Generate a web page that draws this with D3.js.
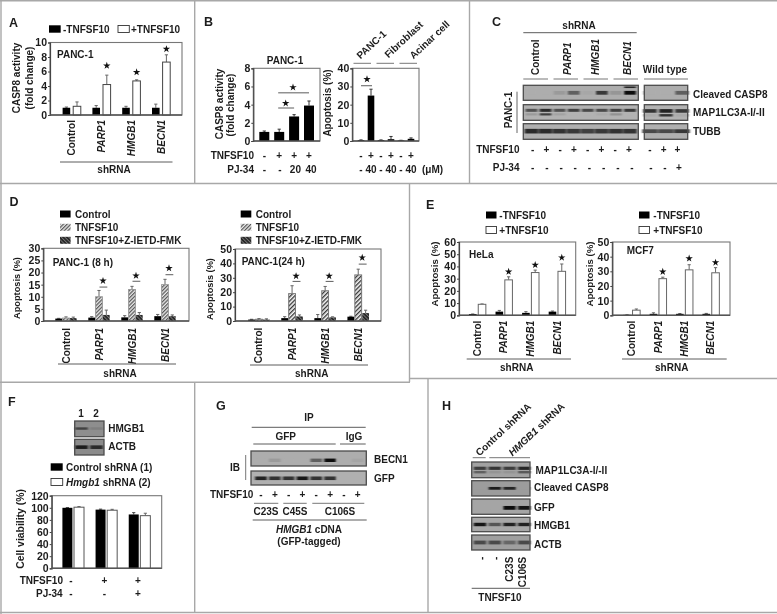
<!DOCTYPE html>
<html><head><meta charset="utf-8">
<script src="https://cdn.jsdelivr.net/npm/d3@7"></script>
<style>
html,body{margin:0;padding:0;background:#fff}
svg{display:block;filter:blur(0.35px)}
text{font-family:"Liberation Sans",Arial,sans-serif;font-weight:bold;font-size:10px;fill:#1c1c1c}
</style></head><body><svg id="c" width="777" height="614"></svg>
<script>
// ---------- data ----------
const shGenes=["Control","PARP1","HMGB1","BECN1"];
const legendTNF=["-TNFSF10","+TNFSF10"];
const legendD=["Control","TNFSF10","TNFSF10+Z-IETD-FMK"];
const legendF=["Control shRNA (1)","Hmgb1 shRNA (2)"];
// A
const aMinus=[1,1,1,1], aMinusErr=[.1,.3,.2,.5];
const aPlus=[1.2,4.2,4.7,7.3], aPlusErr=[.6,1.3,.15,1];
const aStars=[null,6.8,5.9,9.1];
// B
const b1Cats=["a","b","c","d"], b1Vals=[1,1,2.7,3.9], b1Err=[.1,.3,.2,.5];
const b1Top=["-","+","+","+"], b1Bottom=["-","-","20","40"];
const b2Cats=["a","b","c","d","e","f"], b2Vals=[.5,25,.5,1,.3,1.2], b2Err=[.1,3.5,.1,1.5,.1,.5];
const b2Top=["-","+","-","+","-","+"], b2Bottom=["-","40","-","40","-","40"];
const b2Heads=["PANC-1","Fibroblast","Acinar cell"];
// C
const cUpper=[0,0,.12,.5,.04,.75,.15,1], cUpperTop=[0,0,0,0,0,0,0,.85], cUpperWT=[0,0,.5];
const cLC3a=[.6,.85,.6,.7,.65,.65,.7,.75], cLC3b=[.15,.7,.1,0,0,.05,.2,0];
const cLC3aWT=[.8,.9,.75], cLC3bWT=[.05,.8,.05];
const cTubb=[.85,.85,.8,.75,.7,.75,.8,.8], cTubbWT=[.65,.65,.75];
const cTop=["-","+","-","+","-","+","-","+"], cBottom=["-","-","-","-","-","-","-","-"];
const cTopWT=["-","+","+"], cBottomWT=["-","-","+"];
// D
const d1Ctl=[1,1.4,1.5,2], d1CtlErr=[.1,.4,.7,.7];
const d1Tnf=[1.2,10,13,15], d1TnfErr=[.5,2.6,1.3,2.2];
const d1Z=[1.2,2.5,2.5,2], d1ZErr=[.4,2,1,.5];
const d1Sig=[null,14,16.4,19.1], d1Stars=[null,16.6,18.7,21.8];
const d2Ctl=[1,2,2,3], d2CtlErr=[.2,1,2.5,.3];
const d2Tnf=[1.2,19,21,32], d2TnfErr=[.5,5.5,3,4];
const d2Z=[1,3.2,2.5,5.5], d2ZErr=[.5,1,.4,2];
const d2Sig=[null,27.5,27.5,39.5], d2Stars=[null,31.2,31.2,44];
// E
const e1Minus=[1,3,2,3], e1MinusErr=[.1,1,1,.5];
const e1Plus=[9,29,35,36], e1PlusErr=[.3,2.5,2,6];
const e1Stars=[null,35.7,41.2,47.2];
const e2Minus=[.3,1,1,1], e2MinusErr=[.1,.7,.2,.3];
const e2Plus=[3.5,25,31,29], e2PlusErr=[.8,1,3.5,3.5];
const e2Stars=[null,29.7,38.8,36];
// F
const fCats=["a","b","c"];
const fCtl=[100,97,89], fCtlErr=[.3,.8,3];
const fKd=[101,96,87], fKdErr=[1,1.5,4];
const fTop=["-","+","+"], fBottom=["-","-","+"];
const fHmgb1=[.6,.12], fActb=[.9,.8];
// G
const gBecn=[0,.12,0,0,.5,1,0,.05], gGfp=[.9,.8,.8,.95,.8,.8,0,0];
const gSigns=["-","+","-","+","-","+","-","+"];
const gMut=["C23S","C45S","C106S"];
// H
const hLC3a=[.7,.75,.7,.85], hLC3b=[.45,.1,.1,.5];
const hCasp=[0,.9,.85,0], hGfp=[0,0,1,.95], hHmgb=[.95,.55,.9,.9], hActb=[.6,.6,.4,.6];
const hLabels=["-","-","C23S","C106S"];
const hBlotNames=["MAP1LC3A-I/-II","Cleaved CASP8","GFP","HMGB1","ACTB"];

// ---------- helpers ----------
const svg=d3.select("#c");
const defs=svg.append("defs");
defs.append("filter").attr("id","soft").attr("x","-30%").attr("y","-80%").attr("width","160%").attr("height","260%")
  .append("feGaussianBlur").attr("stdDeviation","1 0.65");
function hatch(id,bg,fg,angle,w,sw){
  const p=defs.append("pattern").attr("id",id).attr("width",w).attr("height",w)
    .attr("patternUnits","userSpaceOnUse").attr("patternTransform",`rotate(${angle})`);
  p.append("rect").attr("width",w).attr("height",w).attr("fill",bg);
  p.append("rect").attr("width",sw).attr("height",w).attr("fill",fg);
}
hatch("hTnf","#e8e8e8","#555",45,2.6,1.2);
hatch("hTnf2","#f4f4f4","#333",45,3,1.3);
hatch("hZ","#262626","#777",-45,2.6,.9);
const ink="#1c1c1c", gray="#777", rule="#5c5c5c";
function T(x,y,s,o={}){
  const t=svg.append("text").attr("x",x).attr("y",y).attr("dy","0.35em")
    .attr("text-anchor",o.anchor||"start").text(s);
  if(o.size) t.style("font-size",o.size+"px");
  if(o.italic) t.style("font-style","italic");
  if(o.rot!=null) t.attr("transform",`rotate(${o.rot},${x},${y})`);
  return t;
}
function L(x1,y1,x2,y2,c=rule,w=1){svg.append("line").attr("x1",x1).attr("y1",y1).attr("x2",x2).attr("y2",y2).attr("stroke",c).attr("stroke-width",w);}
function star(x,y){svg.append("path").attr("d",d3.symbol().type(d3.symbolStar).size(17)()).attr("transform",`translate(${x},${y})`).attr("fill","#111");}
function swatch(x,y,w,h,fill){svg.append("rect").attr("x",x).attr("y",y-h/2).attr("width",w).attr("height",h).attr("fill",fill).attr("stroke",fill==="#fff"?"#333":"none").attr("stroke-width",.9);}
const isGene=s=>["PARP1","HMGB1","BECN1"].includes(s);

// generic bar chart
function bars(cfg){
  const {x0,x1,y0,y1,max,ticks,cats,centers,series,pitch,bw,labelTop}=cfg;
  const y=d3.scaleLinear().domain([0,max]).range([y1,y0]);
  const step=(centers[1]-centers[0]);
  const xG=d3.scaleBand().domain(cats).range([centers[0]-step/2,centers[centers.length-1]+step/2]);
  const n=series.length;
  const xS=d3.scaleBand().domain(d3.range(n)).range([step/2-n*pitch/2,step/2+n*pitch/2]);
  const g=svg.append("g");
  g.append("rect").attr("x",x0).attr("y",y0).attr("width",x1-x0).attr("height",y1-y0).attr("fill","#fff").attr("stroke",gray).attr("stroke-width",1.1);
  series.forEach((s,i)=>{
    const gg=g.append("g");
    const cx=c=>xG(c)+xS(i)+xS.bandwidth()/2;
    gg.selectAll("line.e").data(cats).join("line")
      .attr("x1",c=>cx(c)).attr("x2",c=>cx(c))
      .attr("y1",(c,k)=>y(s.v[k])).attr("y2",(c,k)=>y(s.v[k]+s.e[k]))
      .attr("stroke",s.ec||"#666").attr("stroke-width",1);
    gg.selectAll("line.c").data(cats).join("line").attr("class","c")
      .attr("x1",c=>cx(c)-1.6).attr("x2",c=>cx(c)+1.6)
      .attr("y1",(c,k)=>y(s.v[k]+s.e[k])).attr("y2",(c,k)=>y(s.v[k]+s.e[k]))
      .attr("stroke",s.ec||"#666").attr("stroke-width",1);
    gg.selectAll("rect").data(cats).join("rect")
      .attr("x",c=>cx(c)-bw/2).attr("width",bw)
      .attr("y",(c,k)=>y(s.v[k])).attr("height",(c,k)=>y1-y(s.v[k]))
      .attr("fill",s.fill).attr("stroke",s.stroke||"none").attr("stroke-width",1);
  });
  const ax=svg.append("g").attr("transform",`translate(${x0},0)`).call(d3.axisLeft(y).tickValues(ticks).tickSize(2).tickPadding(1).tickFormat(d3.format("d")));
  ax.selectAll("text").style("font-size","10.5px").style("fill",ink);
  ax.select(".domain").attr("stroke","#444").attr("stroke-width",1.2);ax.selectAll("line").attr("stroke","#444");
  const ab=svg.append("g").attr("transform",`translate(0,${y1})`).call(d3.axisBottom(xG).tickSize(0).tickFormat(""));
  ab.select(".domain").remove();
  L(x0,y1,x1,y1,"#555",1.4);
  if(labelTop!=null){
    cats.forEach(c=>T(xG(c)+step/2,labelTop,c,{anchor:"end",rot:-90,italic:isGene(c)}));
  }
  return {y,xG,xS,step,star:(c,v,i)=>star(xG(c)+xS(i)+xS.bandwidth()/2,y(v)),
    cx:(c,i)=>xG(c)+xS(i)+xS.bandwidth()/2};
}
function signs(list,x0,x1,yy,opt={}){
  const s=d3.scalePoint().domain(d3.range(list.length)).range([x0,x1]);
  list.forEach((t,i)=>T(s(i),yy,t,{anchor:"middle",size:opt.size||10}));
}
// blot: rows of band intensity through a lane scale
function blot(x0,x1,y0,y1,lanesX,bandsets,bg){
  const g=svg.append("g");
  g.append("rect").attr("x",x0).attr("y",y0).attr("width",x1-x0).attr("height",y1-y0).attr("fill",bg);
  const inner=g.append("g").attr("filter","url(#soft)");
  const col=d3.scaleLinear().domain([0,1]).range([bg,"#111"]);
  bandsets.forEach(b=>{
    const x=d3.scalePoint().domain(d3.range(b.v.length)).range(lanesX);
    const step=x.step();
    const yc=y0+(y1-y0)*b.at;
    inner.selectAll(null).data(b.v).join("rect")
      .attr("x",(d,i)=>x(i)-step*(b.w||.42)).attr("width",step*2*(b.w||.42))
      .attr("y",yc-(b.h||1.6)).attr("height",2*(b.h||1.6))
      .attr("fill",d=>col(d));
  });
  g.append("rect").attr("x",x0).attr("y",y0).attr("width",x1-x0).attr("height",y1-y0).attr("fill","none").attr("stroke","#4c4c4c").attr("stroke-width",1.3);
}

// ---------- panel frames ----------
const frame="#a8a8a8";
[[1,0,1,614],[0,.7,777,.7],[0,183.5,777,183.5],[0,382.3,410,382.3],[410,378.5,777,378.5],[0,612.5,777,612.5],
 [194.7,0,194.7,183.5],[469.5,0,469.5,183.5],[409.5,183.5,409.5,382],[194.7,382,194.7,613],[428,378.5,428,613]]
 .forEach(d=>L(d[0],d[1],d[2],d[3],frame,1.4));

// ---------- A ----------
T(9,22.5,"A",{size:12.5});
swatch(49,29,11.7,7.4,"#000");T(63,29.5,legendTNF[0]);
swatch(118,29,11.3,7,"#fff");T(131,29.5,legendTNF[1]);
T(16,78,"CASP8 activity",{anchor:"middle",rot:-90});
T(29.5,78,"(fold change)",{anchor:"middle",rot:-90});
const pa=bars({x0:50,x1:182,y0:42.5,y1:115,max:10,ticks:[0,2,4,6,8,10],cats:shGenes,centers:[71.7,101.5,131.3,161.1],
  pitch:10.6,bw:7.6,labelTop:120,series:[{v:aMinus,e:aMinusErr,fill:"#000"},{v:aPlus,e:aPlusErr,fill:"#fff",stroke:"#444"}]});
shGenes.forEach((c,i)=>{if(aStars[i])pa.star(c,aStars[i],1);});
T(57,54,"PANC-1");
L(60,162,172.5,162);T(114,169.5,"shRNA",{anchor:"middle"});

// ---------- B ----------
T(204,22,"B",{size:12.5});
T(285,60,"PANC-1",{anchor:"middle"});
T(219,104,"CASP8 activity",{anchor:"middle",rot:-90});
T(230.7,105,"(fold change)",{anchor:"middle",rot:-90});
const pb1=bars({x0:253.3,x1:320,y0:68.3,y1:141,max:8,ticks:[0,2,4,6,8],cats:b1Cats,centers:[264.3,279.2,294,309],
  pitch:14,bw:10,series:[{v:b1Vals,e:b1Err,fill:"#000",ec:"#333"}]});
[[3.63,2],[5.3,3]].forEach(([v,to])=>{
  L(pb1.cx(b1Cats[1],0)-1,pb1.y(v),pb1.cx(b1Cats[to],0),pb1.y(v));
});
star(285.7,pb1.y(4.15));star(293,pb1.y(5.9));
T(254,155,"TNFSF10",{anchor:"end"});T(254,169,"PJ-34",{anchor:"end"});
signs(b1Top,264.3,309,155);signs(b1Bottom,264.3,311,169);
T(327.3,103,"Apoptosis (%)",{anchor:"middle",rot:-90});
const pb2=bars({x0:352.3,x1:419,y0:68.3,y1:141,max:40,ticks:[0,10,20,30,40],cats:b2Cats,centers:[361,371,381,391,401,411],
  pitch:10,bw:6.6,series:[{v:b2Vals,e:b2Err,fill:"#000",ec:"#333"}]});
L(361,pb2.y(30.4),372,pb2.y(30.4));star(367,pb2.y(34));
[[353.5,371],[376.5,394],[399.5,417]].forEach(d=>L(d[0],63.3,d[1],63.3,"#777"));
T(358,57,b2Heads[0],{rot:-43});T(386,56,b2Heads[1],{rot:-43});T(411,57,b2Heads[2],{rot:-43});
signs(b2Top,361,411,155);signs(b2Bottom,361,411,169);
T(422,169,"(μM)");

// ---------- C ----------
T(492,22,"C",{size:12.5});
T(579,25,"shRNA",{anchor:"middle"});L(523.3,32.7,636.7,32.7);
[535.3,567.3,595.7,627].forEach((x,i)=>{T(x,75,shGenes[i],{anchor:"start",rot:-90,italic:i>0});});
[[523.3,548],[553.5,578],[583.5,608],[613.5,638]].forEach(d=>L(d[0],79,d[1],79,"#777"));
L(644,79,688,79,"#777");
T(665,69,"Wild type",{anchor:"middle"});
blot(523.3,638.3,85.3,100.3,[531.5,630],[{v:cUpper,at:.5,h:1.9},{v:cUpperTop,at:.13,h:.8}],"#adadad");
blot(644.3,687.7,85.3,100.3,[650,682],[{v:cUpperWT,at:.5,h:1.9}],"#adadad");
blot(523.3,638.3,104.7,120.3,[531.5,630],[{v:cLC3a,at:.36,h:1.5},{v:cLC3b,at:.62,h:1.1}],"#b2b2b2");
blot(644.3,687.7,104.7,120.3,[650,682],[{v:cLC3aWT,at:.4,h:1.8},{v:cLC3bWT,at:.68,h:1.2}],"#b2b2b2");
blot(523.3,638.3,123.7,139.3,[531.5,630],[{v:cTubb,at:.48,h:2.3,w:.48}],"#b0b0b0");
blot(644.3,687.7,123.7,139.3,[650,682],[{v:cTubbWT,at:.48,h:1.9,w:.48}],"#b0b0b0");
T(693,94,"Cleaved CASP8");T(693,112.7,"MAP1LC3A-I/-II");T(693,131,"TUBB");
T(508,110,"PANC-1",{anchor:"middle",rot:-90});
L(517,91.7,517,133,"#666");
T(519.5,149.3,"TNFSF10",{anchor:"end"});T(519.5,167.7,"PJ-34",{anchor:"end"});
signs(cTop,532.7,629,149.3);signs(cBottom,532.7,632,167.7);
signs(cTopWT,650,677.5,149.3);signs(cBottomWT,651,679,167.7);

// ---------- D ----------
T(9.5,202,"D",{size:12.5});
function dLegend(xs,xt){
  [["#000",214],["url(#hTnf)",227.3],["url(#hZ)",240.3]].forEach(([f,y],i)=>{
    swatch(xs,y,10.6,7,f);T(xt,y,legendD[i]);
  });
}
dLegend(60,75);
T(17,288,"Apoptosis (%)",{anchor:"middle",rot:-90,size:9.2});
const pd1=bars({x0:43.3,x1:189,y0:248.3,y1:321,max:30,ticks:[0,5,10,15,20,25,30],cats:shGenes,centers:[66,99,132,165],
  pitch:7.3,bw:6.8,labelTop:328,series:[{v:d1Ctl,e:d1CtlErr,fill:"#000"},{v:d1Tnf,e:d1TnfErr,fill:"url(#hTnf)",stroke:"#999"},{v:d1Z,e:d1ZErr,fill:"url(#hZ)"}]});
shGenes.forEach((c,i)=>{if(d1Sig[i]){L(pd1.cx(c,1)+.5,pd1.y(d1Sig[i]),pd1.cx(c,2)+1,pd1.y(d1Sig[i]));star(pd1.cx(c,1)+4,pd1.y(d1Stars[i]));}});
T(52.7,262.7,"PANC-1 (8 h)");
L(58,364,176,364);T(120,373.7,"shRNA",{anchor:"middle"});
dLegend(240.7,255.7);
T(210,289,"Apoptosis (%)",{anchor:"middle",rot:-90,size:9.2});
const pd2=bars({x0:235,x1:381,y0:249,y1:321,max:50,ticks:[0,10,20,30,40,50],cats:shGenes,centers:[259,292,325,358.3],
  pitch:7.4,bw:6.8,labelTop:327.7,series:[{v:d2Ctl,e:d2CtlErr,fill:"#000"},{v:d2Tnf,e:d2TnfErr,fill:"url(#hTnf2)",stroke:"#777"},{v:d2Z,e:d2ZErr,fill:"url(#hZ)"}]});
shGenes.forEach((c,i)=>{if(d2Sig[i]){L(pd2.cx(c,1)+.5,pd2.y(d2Sig[i]),pd2.cx(c,2)+1,pd2.y(d2Sig[i]));star(pd2.cx(c,1)+4,pd2.y(d2Stars[i]));}});
T(241.7,261.7,"PANC-1(24 h)");
L(250,365,368,365);T(311.7,373.7,"shRNA",{anchor:"middle"});

// ---------- E ----------
T(426,204.7,"E",{size:12.5});
function eLegend(xs,xt){
  swatch(xs,215,10.5,7,"#000");T(xt,215.5,legendTNF[0]);
  swatch(xs,230,10.5,7,"#fff");T(xt,230.5,legendTNF[1]);
}
eLegend(486,499.3);eLegend(639,653.3);
T(435,274,"Apoptosis (%)",{anchor:"middle",rot:-90,size:9.7});
const pe1=bars({x0:459,x1:575.7,y0:242,y1:315.3,max:60,ticks:[0,10,20,30,40,50,60],cats:shGenes,centers:[477.4,503.9,530.5,557.2],
  pitch:9.3,bw:7.6,labelTop:320.7,series:[{v:e1Minus,e:e1MinusErr,fill:"#000"},{v:e1Plus,e:e1PlusErr,fill:"#fff",stroke:"#666"}]});
shGenes.forEach((c,i)=>{if(e1Stars[i])pe1.star(c,e1Stars[i],1);});
T(469,254,"HeLa");
L(466.7,359,571,359);T(516.7,367.7,"shRNA",{anchor:"middle"});
T(590,274,"Apoptosis (%)",{anchor:"middle",rot:-90,size:9.7});
const pe2=bars({x0:612.3,x1:730,y0:242,y1:315.3,max:50,ticks:[0,10,20,30,40,50],cats:shGenes,centers:[631.7,658,684.7,711],
  pitch:9.3,bw:7.6,labelTop:320.7,series:[{v:e2Minus,e:e2MinusErr,fill:"#000"},{v:e2Plus,e:e2PlusErr,fill:"#fff",stroke:"#666"}]});
shGenes.forEach((c,i)=>{if(e2Stars[i])pe2.star(c,e2Stars[i],1);});
T(626.7,250.7,"MCF7");
L(622,359,726.7,359);T(671.7,367.7,"shRNA",{anchor:"middle"});

// ---------- F ----------
T(8,402,"F",{size:12.5});
T(81,413,"1",{anchor:"middle"});T(96,413,"2",{anchor:"middle"});
blot(74.7,104,421,436.7,[81.5,96.5],[{v:fHmgb1,at:.48,h:1.2}],"#8e8e8e");
blot(74.7,104,439.3,455,[81.5,96.5],[{v:fActb,at:.5,h:1.8}],"#8b8b8b");
T(108.3,428.3,"HMGB1");T(108.3,446.7,"ACTB");
swatch(50.7,467,12,7.4,"#000");T(66,467.5,legendF[0]);
swatch(51,482,11.7,7,"#fff");
const lf=T(66,482.5,"");lf.append("tspan").style("font-style","italic").text("Hmgb1");lf.append("tspan").text(" shRNA (2)");
T(20,529,"Cell viability (%)",{anchor:"middle",rot:-90,size:10.4});
bars({x0:51.7,x1:161.7,y0:495.7,y1:568.3,max:120,ticks:[0,20,40,60,80,100,120],cats:fCats,centers:[73.2,106.4,139.5],
  pitch:11.6,bw:10,series:[{v:fCtl,e:fCtlErr,fill:"#000",ec:"#444"},{v:fKd,e:fKdErr,fill:"#fff",stroke:"#555"}]});
T(63,580.7,"TNFSF10",{anchor:"end"});T(62.7,593.3,"PJ-34",{anchor:"end"});
signs(fTop,71,138,580.7);signs(fBottom,71,138,593.3);

// ---------- G ----------
T(216,405.7,"G",{size:12.5});
T(309,417,"IP",{anchor:"middle"});L(251.7,427.3,365.7,427.3);
T(285.7,436,"GFP",{anchor:"middle"});T(354,436,"IgG",{anchor:"middle"});
L(253.3,444,335.7,444);L(340,444,365.7,444);
blot(251,366.3,451,466,[261,357.7],[{v:gBecn,at:.62,h:1.7}],"#adadad");
blot(251,366.3,471,485,[261,357.7],[{v:gGfp,at:.52,h:1.8}],"#b0b0b0");
T(374,459,"BECN1");T(374,478,"GFP");
T(235,467.3,"IB",{anchor:"middle"});L(245.7,455,245.7,480,"#777");
T(253.3,494.3,"TNFSF10",{anchor:"end"});
signs(gSigns,261,357.7,494.3);
L(254,503.3,278.3,503.3,"#777");L(283.3,503.3,306.7,503.3,"#777");L(312.3,503.3,364.3,503.3,"#777");
T(266,511.7,gMut[0],{anchor:"middle"});T(295,511.7,gMut[1],{anchor:"middle"});T(340,511.7,gMut[2],{anchor:"middle"});
L(252.7,520,366.7,520);
const lg=T(309,529,"",{anchor:"middle"});lg.append("tspan").style("font-style","italic").text("HMGB1");lg.append("tspan").text(" cDNA");
T(309,541.7,"(GFP-tagged)",{anchor:"middle"});

// ---------- H ----------
T(442,405.7,"H",{size:12.5});
T(477,454,"Control shRNA",{rot:-43});
const lh=T(510,454,"",{rot:-43});lh.append("tspan").style("font-style","italic").text("HMGB1");lh.append("tspan").text(" shRNA");
L(472.7,457.7,485.7,457.7,"#777");L(489.3,457.7,530,457.7,"#777");
blot(471.7,530,462,477.7,[480,524.3],[{v:hLC3a,at:.4,h:1.6},{v:hLC3b,at:.65,h:1.2}],"#a2a2a2");
blot(471.7,530,480.7,496,[480,524.3],[{v:hCasp,at:.5,h:1.4}],"#9c9c9c");
blot(471.7,530,499,514.3,[480,524.3],[{v:hGfp,at:.58,h:1.9}],"#a5a5a5");
blot(471.7,530,517.3,531.7,[480,524.3],[{v:hHmgb,at:.5,h:1.7}],"#a8a8a8");
blot(471.7,530,535,550,[480,524.3],[{v:hActb,at:.5,h:1.9}],"#9f9f9f");
hBlotNames.forEach((s,i)=>T(i?534:535.5,[470,487.7,507.3,525.7,544.3][i],s));
const hx=d3.scalePoint().domain(d3.range(hLabels.length)).range([481.7,522.7]);
hLabels.forEach((s,i)=>T(hx(i),556.7,s,{anchor:"end",rot:-90}));
L(471.7,588.3,530,588.3);
T(500,597,"TNFSF10",{anchor:"middle"});
</script></body></html>
